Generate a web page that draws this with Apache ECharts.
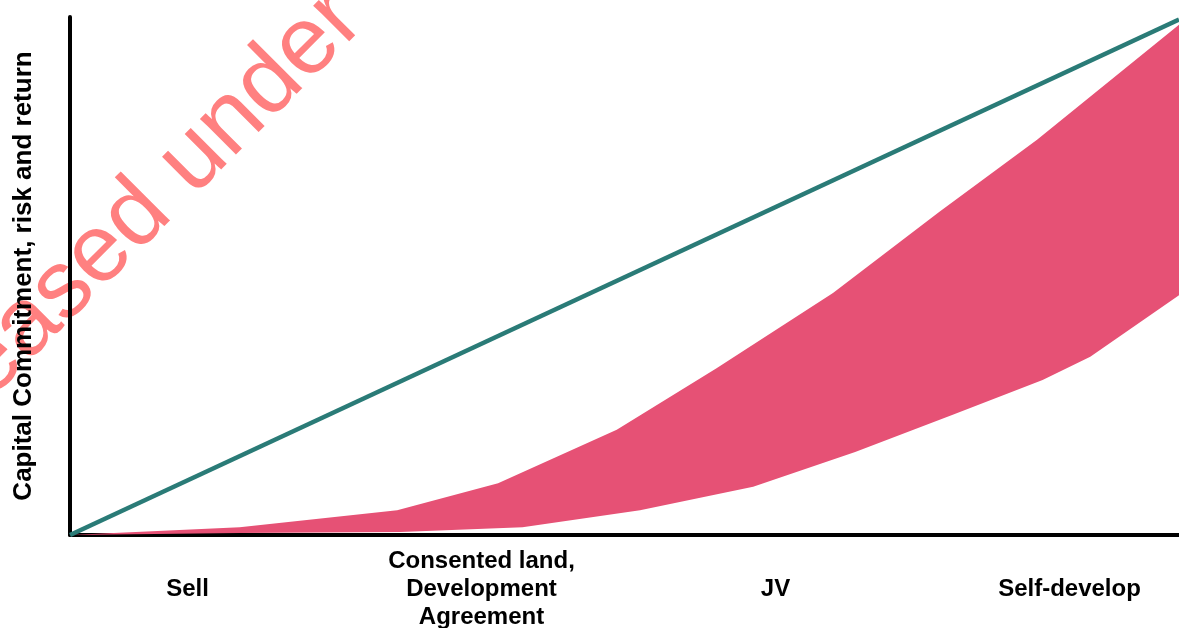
<!DOCTYPE html>
<html>
<head>
<meta charset="utf-8">
<script src="https://cdn.jsdelivr.net/npm/echarts@6/dist/echarts.min.js"></script>
<style>
  html, body { margin: 0; padding: 0; background: #ffffff; }
  #chart { width: 1179px; height: 628px; }
</style>
</head>
<body>
<div id="chart"></div>
<script>
// Delivery routes, ordered by increasing capital commitment
const categories = ['Sell', 'Consented land,\nDevelopment\nAgreement', 'JV', 'Self-develop'];

// Capital commitment, risk and return (straight trend), on a 0–100 scale
const trendX = [0, 100];
const trendY = [0, 99.5];

// Upper edge of the return band
const upperX = [0, 15.3, 29.5, 38.6, 49.3, 58.3, 68.8, 78.4, 87.2, 100];
const upperY = [0, 1.5, 4.8, 10.0, 20.3, 32.2, 46.7, 62.4, 76.3, 98.5];

// Lower edge of the return band
const lowerX = [0, 15.3, 29.8, 40.8, 51.4, 61.6, 70.8, 79.6, 87.7, 92.0, 100];
const lowerY = [0, 0.4, 0.6, 1.5, 4.8, 9.3, 16.0, 23.2, 29.9, 34.4, 46.3];

const yAxisTitle = 'Capital Commitment, risk and return';

const zip = (xs, ys) => xs.map((x, i) => [x, ys[i]]);
const trendData = zip(trendX, trendY);
const upperData = zip(upperX, upperY);
const lowerData = zip(lowerX, lowerY);

const FONT = '"Liberation Sans", Arial, sans-serif';

const chart = echarts.init(document.getElementById('chart'), null, { renderer: 'canvas' });

chart.setOption({
  animation: false,
  backgroundColor: '#ffffff',
  graphic: [{
    type: 'text',
    x: -131,
    y: 484,
    rotation: Math.PI / 4,
    z: -10,
    silent: true,
    style: {
      text: 'Released under',
      font: '96px ' + FONT,
      fill: '#ff8080',
      textAlign: 'left',
      textVerticalAlign: 'middle'
    }
  }],
  grid: [
    { left: 70, top: 17, right: 0, bottom: 93, outerBoundsMode: 'none' },
    // label row: one slot per route, centred under each stage
    { left: 187.5, width: 882, top: 17, bottom: 93, outerBoundsMode: 'none' }
  ],
  xAxis: [
    {
      type: 'value',
      gridIndex: 0,
      min: 0,
      max: 100,
      axisLine: { show: true, lineStyle: { color: '#000000', width: 4 } },
      axisTick: { show: false },
      axisLabel: { show: false },
      splitLine: { show: false }
    },
    {
      type: 'category',
      gridIndex: 1,
      data: categories,
      boundaryGap: false,
      axisLine: { show: false },
      axisTick: { show: false },
      splitLine: { show: false },
      axisLabel: {
        interval: 0,
        margin: 54,
        color: '#000000',
        fontFamily: FONT,
        fontWeight: 'bold',
        fontSize: 24,
        lineHeight: 28,
        align: 'center',
        verticalAlign: 'middle'
      }
    }
  ],
  yAxis: [
    {
      type: 'value',
      gridIndex: 0,
      min: 0,
      max: 100,
      name: yAxisTitle,
      nameLocation: 'middle',
      nameGap: 33,
      nameTextStyle: {
        color: '#000000',
        fontFamily: FONT,
        fontWeight: 'bold',
        fontSize: 26
      },
      axisLine: { show: true, lineStyle: { color: '#000000', width: 4 } },
      axisTick: { show: false },
      axisLabel: { show: false },
      splitLine: { show: false }
    },
    {
      type: 'value',
      gridIndex: 1,
      show: false
    }
  ],
  series: [
    {
      // Return band, filled between its lower and upper edges
      type: 'custom',
      xAxisIndex: 0,
      yAxisIndex: 0,
      z: 2,
      silent: true,
      data: [0],
      renderItem: function (params, api) {
        const pts = upperData.map(p => api.coord(p))
          .concat(lowerData.slice().reverse().map(p => api.coord(p)));
        return {
          type: 'polygon',
          shape: { points: pts },
          style: { fill: '#e65175', stroke: null }
        };
      }
    },
    {
      type: 'line',
      xAxisIndex: 0,
      yAxisIndex: 0,
      z: 3,
      data: trendData,
      symbol: 'none',
      silent: true,
      lineStyle: { color: '#2a7b77', width: 4.5 }
    }
  ]
});
</script>
</body>
</html>
